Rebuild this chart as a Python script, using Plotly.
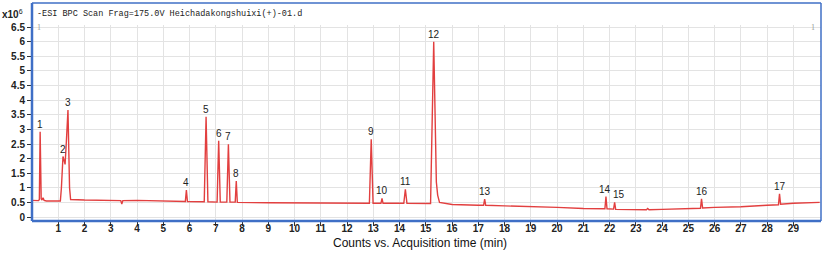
import plotly.graph_objects as go

# Chromatogram trace (time in min, counts x10^6)
times = [0.00, 0.25, 0.28, 0.31, 0.35, 0.38, 0.42, 0.46, 0.55,
         1.08, 1.12, 1.18, 1.22, 1.26, 1.31, 1.37, 1.43, 1.47,
         2.00, 3.00, 3.38, 3.42, 3.46, 4.00, 5.00,
         5.84, 5.88, 5.92, 6.56, 6.63, 6.70,
         7.05, 7.11, 7.17, 7.42, 7.48, 7.54, 7.74, 7.78, 7.82,
         9.00, 10.00, 11.00, 12.00,
         12.85, 12.92, 12.99, 13.29, 13.33, 13.37, 14.16, 14.22, 14.28,
         15.18, 15.30, 15.40, 15.45, 15.52, 16.00, 17.00,
         17.20, 17.24, 17.28, 18.00, 19.00, 20.00, 21.00,
         21.82, 21.86, 21.90, 22.15, 22.19, 22.23,
         23.00, 23.40, 23.45, 23.50, 24.00, 25.00,
         25.46, 25.50, 25.54, 26.00, 27.00, 28.00,
         28.43, 28.47, 28.51, 29.00, 30.00]
counts = [0.57, 0.56, 0.60, 2.92, 0.62, 0.58, 0.66, 0.57, 0.55,
          0.55, 1.00, 2.07, 1.95, 1.80, 2.60, 3.66, 1.00, 0.60,
          0.58, 0.57, 0.56, 0.44, 0.56, 0.57, 0.54,
          0.53, 0.92, 0.53, 0.52, 3.43, 0.52,
          0.51, 2.61, 0.51, 0.51, 2.49, 0.51, 0.51, 1.23, 0.50,
          0.49, 0.49, 0.48, 0.47,
          0.47, 2.66, 0.47, 0.47, 0.64, 0.47, 0.47, 0.95, 0.47,
          0.46, 6.00, 1.20, 0.75, 0.50, 0.43, 0.40,
          0.40, 0.61, 0.40, 0.38, 0.36, 0.33, 0.29,
          0.28, 0.70, 0.28, 0.27, 0.50, 0.26,
          0.24, 0.25, 0.29, 0.25, 0.26, 0.29,
          0.30, 0.62, 0.31, 0.33, 0.35, 0.40,
          0.42, 0.79, 0.44, 0.47, 0.50]

# Peak labels
peak_ids = ["1", "2", "3", "4", "5", "6", "7", "8", "9", "10", "11", "12",
            "13", "14", "15", "16", "17"]
peak_times = [0.31, 1.18, 1.37, 5.88, 6.63, 7.11, 7.48, 7.78, 12.92, 13.33,
              14.22, 15.30, 17.24, 21.86, 22.19, 25.50, 28.47]
peak_heights = [2.92, 2.07, 3.66, 0.92, 3.43, 2.61, 2.49, 1.23, 2.66, 0.64,
                0.95, 6.00, 0.61, 0.70, 0.50, 0.62, 0.79]

x_ticks = list(range(1, 30))
y_ticks = [0, 0.5, 1, 1.5, 2, 2.5, 3, 3.5, 4, 4.5, 5, 5.5, 6, 6.5]
y_tick_text = ["0", "0.5", "1", "1.5", "2", "2.5", "3", "3.5", "4", "4.5",
               "5", "5.5", "6", "6.5"]

title_text = "-ESI BPC Scan Frag=175.0V Heichadakongshuixi(+)-01.d"
x_title = "Counts vs. Acquisition time (min)"

BLUE = "#3f6fc6"
RED = "#e23f3f"

W, H = 825, 253
ml, mr, mt, mb = 32, 4, 25, 32
ph_px = H - mt - mb
pw_px = W - ml - mr
top_paper = 1 + (mt - 3) / ph_px

# small label nudges (pixels) to keep neighbouring labels apart
label_xshift = {"14": -1, "15": 4}

fig = go.Figure()
fig.add_trace(go.Scatter(x=times, y=counts, mode="lines",
                         line=dict(color=RED, width=1.4), hoverinfo="skip"))

annotations = []
for pid, pt, ph in zip(peak_ids, peak_times, peak_heights):
    annotations.append(dict(x=pt, y=ph, xref="x", yref="y", text=pid, showarrow=False,
                            xanchor="center", yanchor="bottom", yshift=0,
                            xshift=label_xshift.get(pid, 0),
                            font=dict(family="Arial, Liberation Sans", size=10, color="#222")))

annotations += [
    dict(xref="paper", yref="paper", x=(35 - ml) / pw_px, y=1 + (mt - 14) / ph_px,
         text=title_text, showarrow=False, xanchor="left", yanchor="middle",
         font=dict(family="Liberation Mono, DejaVu Sans Mono", size=8.5, color="#222")),
    dict(xref="paper", yref="paper", x=-7 / pw_px, y=1 + (mt - 14) / ph_px,
         text="<b>x10</b><sup>6</sup>", showarrow=False, xanchor="right", yanchor="middle",
         font=dict(family="Liberation Sans, Arial", size=10, color="#222")),
    dict(xref="paper", yref="paper", x=3 / pw_px, y=1 - 3 / ph_px,
         text="1", showarrow=False, xanchor="left", yanchor="middle",
         font=dict(family="Liberation Serif", size=8, color="#999")),
    dict(xref="paper", yref="paper", x=1 - 4 / pw_px, y=1 - 3 / ph_px,
         text="1", showarrow=False, xanchor="right", yanchor="middle",
         font=dict(family="Liberation Serif", size=8, color="#999")),
    dict(xref="paper", yref="paper", x=(420 - ml) / pw_px, y=-(243 - (H - mb)) / ph_px,
         text=x_title, showarrow=False, xanchor="center", yanchor="middle",
         font=dict(family="Arial, Liberation Sans", size=12, color="#111")),
]

shapes = [
    dict(type="line", xref="paper", yref="paper", x0=0, x1=1, y0=top_paper, y1=top_paper,
         line=dict(color=BLUE, width=1.5), layer="above"),
    dict(type="line", xref="paper", yref="paper", x0=1, x1=1, y0=0, y1=top_paper,
         line=dict(color=BLUE, width=1.5), layer="above"),
    dict(type="line", xref="paper", yref="paper", x0=0, x1=1, y0=0, y1=0,
         line=dict(color=BLUE, width=2.5), layer="above"),
    dict(type="line", xref="paper", yref="paper", x0=0, x1=0, y0=0, y1=top_paper,
         line=dict(color=BLUE, width=2.5), layer="above"),
]

fig.update_layout(
    width=W, height=H,
    margin=dict(l=ml, r=mr, t=mt, b=mb, pad=0),
    paper_bgcolor="white", plot_bgcolor="white",
    showlegend=False,
    annotations=annotations,
    shapes=shapes,
    xaxis=dict(range=[0, 30.05], tickmode="array", tickvals=x_ticks,
               ticktext=[str(t) for t in x_ticks],
               showgrid=True, gridcolor="#e3e3e3", gridwidth=1,
               zeroline=False, showline=False,
               ticks="outside", ticklen=4, tickcolor="#333", tickwidth=1,
               ticklabelstandoff=-6,
               tickfont=dict(family="Liberation Sans, Arial", size=10, color="#222",
                             weight="bold")),
    yaxis=dict(range=[-0.137, 6.575], tickmode="array", tickvals=y_ticks,
               ticktext=y_tick_text,
               showgrid=True, gridcolor="#e3e3e3", gridwidth=1,
               zeroline=False, showline=False,
               ticks="outside", ticklen=4, tickcolor="#333", tickwidth=1,
               tickfont=dict(family="Liberation Sans, Arial", size=10, color="#222",
                             weight="bold")),
)

fig.write_html("out.html", config={"displayModeBar": False},
               post_script="document.body.style.margin='0';document.body.style.padding='0';")
